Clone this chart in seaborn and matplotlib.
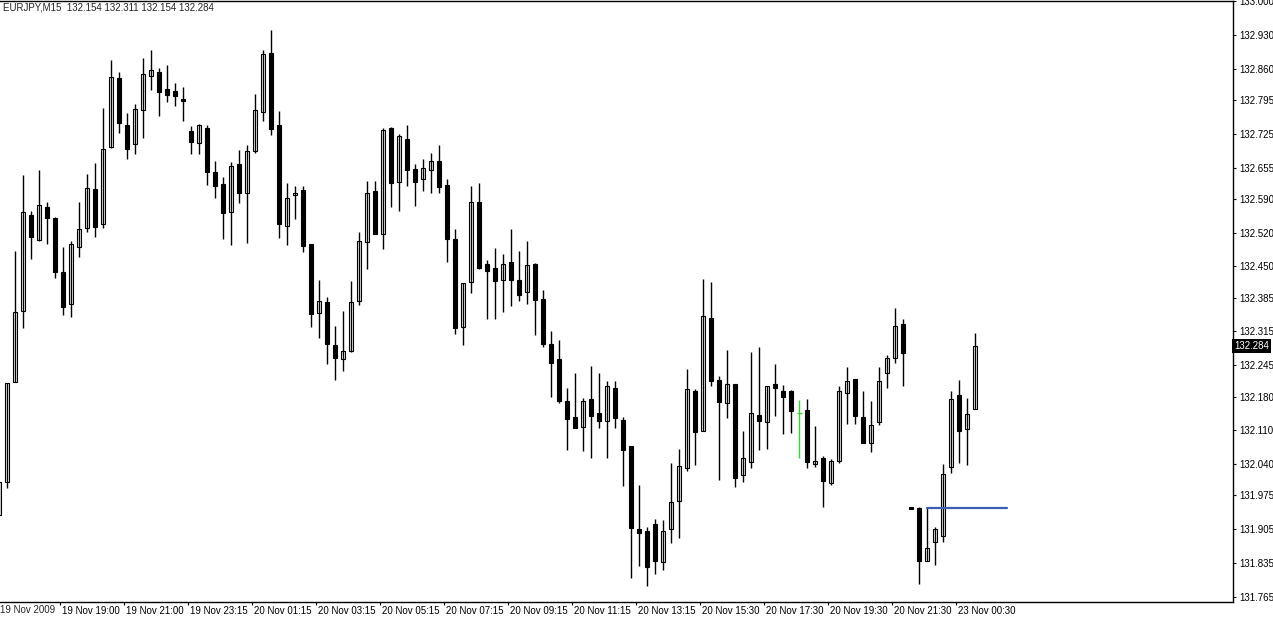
import matplotlib
matplotlib.use("Agg")
import matplotlib.pyplot as plt
import matplotlib.transforms as mtransforms
import seaborn as sns
import numpy as np

# EURJPY M15 bars, index -1 is the partly hidden bar at the left edge
bars = list(range(-1, 122))
opens = [131.934, 132.002, 132.211, 132.357, 132.557, 132.505, 132.573, 132.550, 132.438, 132.371,
         132.491, 132.530, 132.611, 132.537, 132.697, 132.840, 132.743, 132.703, 132.774, 132.846,
         132.853, 132.818, 132.814, 132.797, 132.731, 132.707, 132.737, 132.645, 132.621, 132.562,
         132.662, 132.603, 132.690, 132.770, 132.893, 132.743, 132.534, 132.598, 132.609, 132.496,
         132.353, 132.376, 132.288, 132.257, 132.275, 132.378, 132.500, 132.606, 132.517, 132.737,
         132.626, 132.714, 132.652, 132.631, 132.651, 132.669, 132.619, 132.507, 132.324, 132.417,
         132.583, 132.454, 132.447, 132.421, 132.459, 132.421, 132.396, 132.456, 132.382, 132.289,
         132.257, 132.171, 132.138, 132.117, 132.175, 132.146, 132.129, 132.198, 132.131, 132.077,
         131.905, 131.901, 131.915, 131.836, 131.905, 131.963, 132.031, 132.192, 132.109, 132.342,
         132.214, 132.166, 132.206, 132.017, 132.045, 132.142, 132.127, 132.206, 132.192, 132.192,
         132.145, 132.152, 132.041, 132.052, 132.000, 132.046, 132.187, 132.216, 132.138, 132.083,
         132.127, 132.228, 132.259, 132.331, 131.951, 131.948, 131.839, 131.879, 131.891, 132.034,
         132.183, 132.112, 132.154]
highs = [132.002, 132.209, 132.482, 132.640, 132.564, 132.650, 132.584, 132.552, 132.490, 132.503,
         132.584, 132.642, 132.664, 132.779, 132.878, 132.853, 132.768, 132.788, 132.882, 132.899,
         132.861, 132.868, 132.831, 132.822, 132.741, 132.745, 132.743, 132.669, 132.636, 132.667,
         132.692, 132.702, 132.808, 132.899, 132.940, 132.772, 132.624, 132.616, 132.617, 132.497,
         132.422, 132.387, 132.326, 132.357, 132.420, 132.521, 132.627, 132.627, 132.738, 132.739,
         132.724, 132.743, 132.662, 132.672, 132.685, 132.702, 132.631, 132.527, 132.415, 132.617,
         132.623, 132.463, 132.488, 132.475, 132.528, 132.482, 132.503, 132.458, 132.401, 132.316,
         132.297, 132.198, 132.229, 132.178, 132.243, 132.228, 132.212, 132.212, 132.137, 132.078,
         131.996, 131.910, 131.926, 131.924, 132.042, 132.071, 132.237, 132.195, 132.424, 132.418,
         132.223, 132.277, 132.207, 132.109, 132.273, 132.283, 132.202, 132.248, 132.205, 132.193,
         132.173, 132.175, 132.119, 132.057, 132.050, 132.202, 132.242, 132.217, 132.192, 132.171,
         132.242, 132.266, 132.363, 132.340, 131.951, 131.951, 131.949, 131.910, 132.040, 132.192,
         132.214, 132.176, 132.311]
lows = [131.934, 131.991, 132.211, 132.322, 132.466, 132.503, 132.497, 132.427, 132.350, 132.346,
        132.470, 132.522, 132.510, 132.530, 132.696, 132.726, 132.672, 132.683, 132.716, 132.817,
        132.763, 132.792, 132.783, 132.752, 132.683, 132.683, 132.619, 132.591, 132.507, 132.495,
        132.582, 132.499, 132.685, 132.752, 132.723, 132.508, 132.494, 132.548, 132.479, 132.325,
        132.301, 132.247, 132.214, 132.234, 132.273, 132.369, 132.445, 132.517, 132.486, 132.573,
        132.565, 132.617, 132.576, 132.607, 132.603, 132.602, 132.460, 132.310, 132.288, 132.394,
        132.445, 132.341, 132.341, 132.356, 132.368, 132.379, 132.373, 132.308, 132.282, 132.180,
        132.166, 132.069, 132.114, 132.068, 132.053, 132.115, 132.053, 132.115, 131.995, 131.803,
        131.829, 131.787, 131.811, 131.820, 131.876, 131.886, 132.026, 132.037, 132.109, 132.202,
        132.007, 132.135, 131.992, 132.003, 132.031, 132.070, 132.071, 132.140, 132.102, 132.105,
        132.053, 132.031, 132.034, 131.951, 131.996, 132.042, 132.123, 132.123, 132.084, 132.066,
        132.121, 132.197, 132.250, 132.202, 131.946, 131.791, 131.839, 131.830, 131.879, 132.021,
        132.043, 132.037, 132.154]
closes = [132.002, 132.209, 132.355, 132.563, 132.512, 132.577, 132.551, 132.439, 132.366, 132.496,
          132.527, 132.612, 132.532, 132.693, 132.842, 132.747, 132.693, 132.776, 132.849, 132.857,
          132.812, 132.806, 132.804, 132.793, 132.709, 132.743, 132.645, 132.616, 132.561, 132.658,
          132.603, 132.689, 132.774, 132.891, 132.736, 132.539, 132.591, 132.602, 132.493, 132.351,
          132.378, 132.290, 132.261, 132.274, 132.376, 132.502, 132.602, 132.518, 132.733, 132.624,
          132.721, 132.651, 132.626, 132.654, 132.668, 132.615, 132.506, 132.322, 132.415, 132.583,
          132.447, 132.441, 132.420, 132.456, 132.422, 132.391, 132.452, 132.381, 132.290, 132.250,
          132.171, 132.133, 132.115, 132.171, 132.140, 132.130, 132.201, 132.136, 132.070, 131.908,
          131.896, 131.827, 131.839, 131.901, 131.961, 132.035, 132.195, 132.106, 132.347, 132.212,
          132.169, 132.207, 132.010, 132.052, 132.145, 132.130, 132.201, 132.197, 132.180, 132.151,
          132.145, 132.045, 132.046, 132.005, 132.046, 132.192, 132.212, 132.140, 132.084, 132.120,
          132.212, 132.261, 132.326, 132.270, 131.946, 131.839, 131.865, 131.905, 132.019, 132.174,
          132.109, 132.143, 132.284]

# horizontal level drawn on the chart
level_bars = [115, 125]
level_price = [131.948, 131.948]

price_ticks = [133.000, 132.930, 132.860, 132.795, 132.725, 132.655, 132.590, 132.520, 132.450,
               132.385, 132.315, 132.245, 132.180, 132.110, 132.040, 131.975, 131.905, 131.835, 131.765]
time_bars = [-1, 7, 15, 23, 31, 39, 47, 55, 63, 71, 79, 87, 95, 103, 111, 119]
time_labels = ["19 Nov 2009", "19 Nov 19:00", "19 Nov 21:00", "19 Nov 23:15", "20 Nov 01:15",
               "20 Nov 03:15", "20 Nov 05:15", "20 Nov 07:15", "20 Nov 09:15", "20 Nov 11:15",
               "20 Nov 13:15", "20 Nov 15:30", "20 Nov 17:30", "20 Nov 19:30", "20 Nov 21:30",
               "23 Nov 00:30"]
header = "EURJPY,M15  132.154 132.311 132.154 132.284"
last_price = 132.284

sns.set_style("white")
plt.rcParams['font.family'] = ['Liberation Sans', 'DejaVu Sans']
fs = 7

fig = plt.figure(figsize=(12.73, 6.2), dpi=100)
ax = fig.add_axes([0, 18.5 / 620, 1232.5 / 1273, 601 / 620])

x = np.array(bars)
o = np.array(opens)
h = np.array(highs)
l = np.array(lows)
c = np.array(closes)
doji = o == c
up = c > o
dn = c < o
green = "#3ccf3c"

# wicks first, bodies on top
ax.vlines(x[~doji], l[~doji], h[~doji], color="black", lw=1)
ax.bar(x[up], (c - o)[up], bottom=o[up], width=0.5, color="white", edgecolor="black", lw=0.8)
ax.bar(x[dn], (o - c)[dn], bottom=c[dn], width=0.5, color="black", edgecolor="black", lw=0.8)
ax.vlines(x[doji], l[doji], h[doji], color=green, lw=1)
ax.hlines(c[doji], x[doji] - 0.3, x[doji] + 0.3, color=green, lw=1)

sns.lineplot(x=level_bars, y=level_price, color="#3a5fb5", lw=1.6, ax=ax)

ax.set_xlim(-0.9125, 153.15)
ax.set_ylim(131.7548, 133.0017)

for side in ["top", "right", "bottom"]:
    ax.spines[side].set_visible(True)
    ax.spines[side].set_color("black")
    ax.spines[side].set_linewidth(1)
ax.spines["left"].set_visible(False)

ax.yaxis.tick_right()
ax.set_yticks(price_ticks)
ax.set_yticklabels(["%.3f" % p for p in price_ticks])
ax.tick_params(axis="y", direction="out", length=2.2, width=0.8, pad=2.5, labelsize=fs,
               right=True, left=False, colors="black")

ax.set_xticks(np.array(time_bars[1:]) - 0.36)
ax.set_xticklabels(time_labels[1:], ha="left")
ax.tick_params(axis="x", direction="out", length=2.5, width=0.8, pad=0.5, labelsize=fs,
               bottom=True, colors="black")
shift = mtransforms.ScaledTranslation(1.5 / 100, 0, fig.dpi_scale_trans)
for lab in ax.get_xticklabels():
    lab.set_transform(lab.get_transform() + shift)
fig.text(0.5 / 1273, 1 - 605 / 620, time_labels[0], ha="left", va="top", fontsize=fs)

ax.set_xlabel("")
ax.set_ylabel("")
if ax.get_legend() is not None:
    ax.get_legend().remove()

fig.text(3 / 1273, 1 - 8 / 620, header, ha="left", va="center", fontsize=fs)

ax.text(1.0 + 1.5 / 1232.5, last_price, "%.3f" % last_price, transform=ax.get_yaxis_transform(),
        ha="left", va="center", fontsize=fs, color="white",
        bbox=dict(boxstyle="square,pad=0.2", fc="black", ec="none"))

fig.savefig("out.png", dpi=100)
